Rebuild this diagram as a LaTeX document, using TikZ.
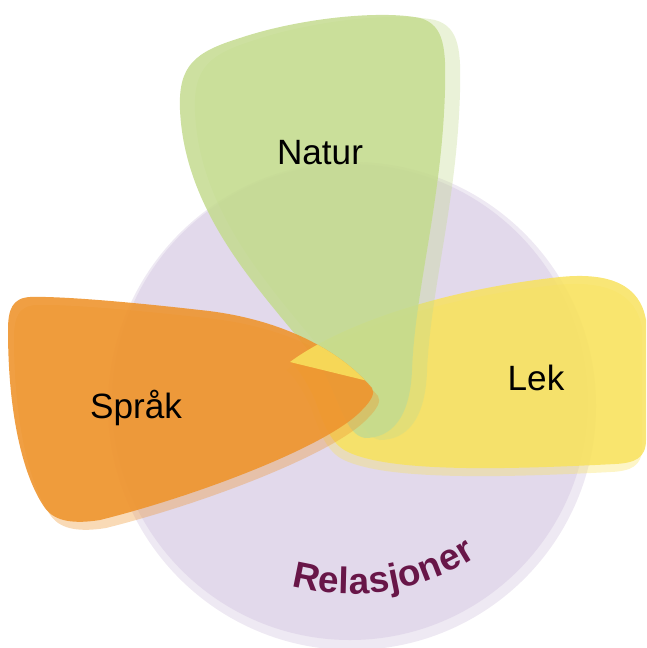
\documentclass[tikz,border=0pt]{standalone}
\usepackage{fontspec}
\setmainfont{Liberation Sans}
\definecolor{lav}{RGB}{226,217,235}
\definecolor{lavlight}{RGB}{238,233,243}
\definecolor{natgreen}{RGB}{196,219,143}
\definecolor{lekyellow}{RGB}{248,226,94}
\definecolor{sprorange}{RGB}{238,149,47}
\definecolor{relc}{RGB}{104,22,72}
\tikzstyle{petal}=[draw=none,fill opacity=.85]
\tikzstyle{shade}=[draw=none,fill opacity=.35]
\tikzstyle{lbl}=[font=\fontsize{20}{24}\selectfont,text=black]
\tikzstyle{rel}=[font=\fontsize{21}{24}\selectfont\bfseries,text=relc,anchor=base,inner sep=0pt]
\newcommand{\naturpath}{(365,438) .. controls (345,435) and (340,400) .. (320,365)
  .. controls (270,300) and (185,220) .. (180,110) .. controls (178,65) and (195,52) .. (240,38)
  .. controls (300,18) and (380,10) .. (420,18) .. controls (445,25) and (446,50) .. (445,90)
  .. controls (442,200) and (415,290) .. (412,370) .. controls (410,420) and (390,438) .. (365,438) -- cycle}
\newcommand{\lekpath}{(290,362) .. controls (340,325) and (440,290) .. (560,277)
  .. controls (610,272) and (640,285) .. (646,320) -- (646,440)
  .. controls (646,458) and (635,463) .. (615,464) .. controls (500,470) and (390,472) .. (348,452)
  .. controls (330,444) and (322,420) .. (315,400) .. controls (308,385) and (300,370) .. (290,362) -- cycle}
\newcommand{\sprakpath}{(372,388) .. controls (340,350) and (280,318) .. (200,310)
  .. controls (130,302) and (60,296) .. (30,297) .. controls (12,298) and (8,310) .. (8,330)
  .. controls (8,420) and (25,480) .. (45,508) .. controls (55,522) and (75,524) .. (100,520)
  .. controls (200,495) and (330,445) .. (362,410) .. controls (372,400) and (375,393) .. (372,388) -- cycle}

\begin{document}
\begin{tikzpicture}[x=0.02cm,y=-0.02cm]
\useasboundingbox (0,0) rectangle (646,648);
\fill[lavlight] (352,406) circle[radius=244];
\fill[lav] (350,402) circle[radius=238];
\fill[shade,lekyellow,shift={(-4,8)}] \lekpath;
\fill[petal,lekyellow] \lekpath;
\fill[shade,natgreen,shift={(15,2)}] \naturpath;
\fill[petal,natgreen] \naturpath;
\fill[shade,sprorange,shift={(6,8)}] \sprakpath;
\fill[petal,sprorange,fill opacity=.9] \sprakpath;
\begin{scope}
\clip \sprakpath;
\clip (290,362) -- (372,382) -- (400,300) -- (280,300) -- cycle;
\fill[petal,lekyellow] \lekpath;
\end{scope}
\node[lbl] (natur) at (320,153) {Natur};
\node[lbl] (sprak) at (136,408) {Språk};
\node[lbl] (lek) at (536,378) {Lek};
\foreach \ch/\a [count=\i] in {R/101.4,e/95.5,l/91.5,a/87.6,s/82.4,j/78.5,o/74.3,n/68.7,e/63.2,r/58.8}
  \path (350,362) ++(\a:232) node[rel,rotate=90-\a] (rel\i) {\ch};
\end{tikzpicture}
\end{document}
